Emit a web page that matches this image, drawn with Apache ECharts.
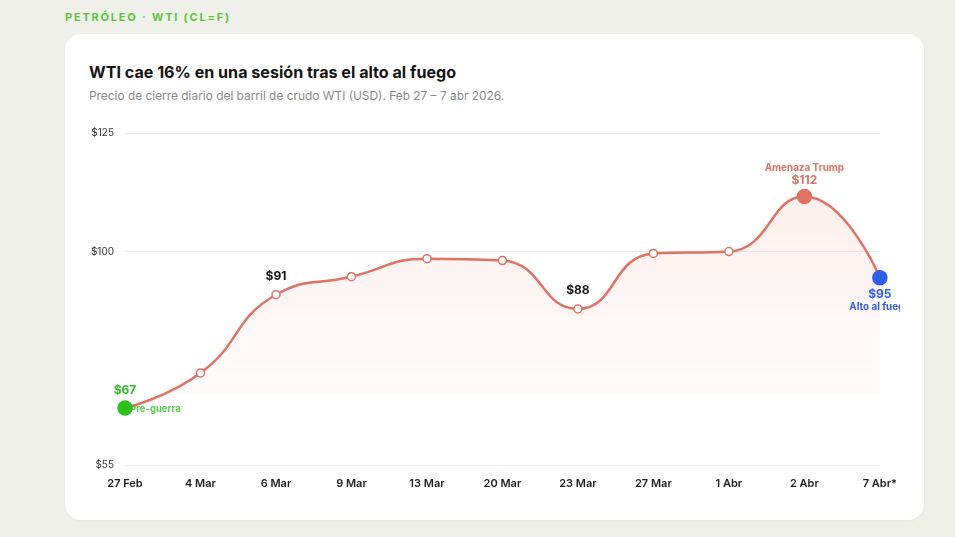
<!DOCTYPE html>
<html><head><meta charset="utf-8">
<script src="https://cdn.jsdelivr.net/npm/echarts@6/dist/echarts.min.js"></script>
<style>
html,body{margin:0;padding:0;background:#f0f0eb;width:955px;height:537px;overflow:hidden;font-family:Inter,"Noto Sans",sans-serif;}
#kicker{position:absolute;left:65px;top:10px;font-size:11px;font-weight:700;letter-spacing:1.8px;color:#5cc43a;}
#card{position:absolute;left:65px;top:34px;width:859px;height:486px;background:#fff;border-radius:16px;box-shadow:0 1px 3px rgba(0,0,0,0.04);}
#title{position:absolute;left:89px;top:62px;font-size:16.1px;font-weight:700;color:#141414;}
#sub{position:absolute;left:89px;top:88px;font-size:11.9px;color:#8a8a8a;}
#chart{position:absolute;left:65px;top:110px;width:835px;height:400px;}
</style></head><body>
<div id="kicker">PETRÓLEO · WTI (CL=F)</div>
<div id="card"></div>
<div id="title">WTI cae 16% en una sesión tras el alto al fuego</div>
<div id="sub">Precio de cierre diario del barril de crudo WTI (USD). Feb 27 – 7 abr 2026.</div>
<div id="chart"></div>
<script>
const categories = ['27 Feb','4 Mar','6 Mar','9 Mar','13 Mar','20 Mar','23 Mar','27 Mar','1 Abr','2 Abr','7 Abr*'];
const prices = [67, 74.4, 90.9, 94.7, 98.5, 98.1, 87.9, 99.6, 100, 111.6, 94.5];
const yTicks = [55, 100, 125];
const plainLabelIdx = [2, 6];            // "$91", "$88"
const preWarIdx = 0, preWarNote = 'Pre-guerra';
const threatIdx = 9, threatNote = 'Amenaza Trump';
const ceasefireIdx = 10, ceasefireNote = 'Alto al fuego';

const LINE = '#df7262', GREEN = '#2fbf1f', BLUE = '#2f5fe8';
const money = v => '$' + Math.round(v);

const data = prices.map((v, i) => {
  const d = { value: v };
  if (plainLabelIdx.includes(i)) {
    d.label = { show: true, position: 'top', distance: 8, formatter: money(v), color: '#151515', fontWeight: 700, fontSize: 12 };
  }
  if (i === preWarIdx) {
    d.symbolSize = 14;
    d.itemStyle = { color: GREEN, borderColor: GREEN };
    d.label = { show: true, position: 'top', distance: 4,
      formatter: '{v|' + money(v) + '}', rich: { v: { color: GREEN, fontWeight: 700, fontSize: 12 } } };
  }
  if (i === threatIdx) {
    d.symbolSize = 14;
    d.itemStyle = { color: LINE, borderColor: LINE };
    d.label = { show: true, position: 'top', distance: 1,
      formatter: '{n|' + threatNote + '}\n{v|' + money(v) + '}',
      rich: { n: { color: LINE, fontWeight: 700, fontSize: 9.9, lineHeight: 12, align: 'center' },
              v: { color: LINE, fontWeight: 700, fontSize: 12, lineHeight: 14, align: 'center' } } };
  }
  if (i === ceasefireIdx) {
    d.symbolSize = 14;
    d.itemStyle = { color: BLUE, borderColor: BLUE };
    d.label = { show: true, position: 'bottom', distance: 2,
      formatter: '{v|' + money(v) + '}\n{n|' + ceasefireNote + '}',
      rich: { v: { color: BLUE, fontWeight: 700, fontSize: 12, lineHeight: 14, align: 'center' },
              n: { color: BLUE, fontWeight: 700, fontSize: 9.9, lineHeight: 11, align: 'center' } } };
  }
  return d;
});

const chart = echarts.init(document.getElementById('chart'), null, { renderer: 'canvas' });
chart.setOption({
  animation: false,
  textStyle: { fontFamily: 'Inter, "Noto Sans", sans-serif' },
  grid: { left: 60, right: 20, top: 23, bottom: 45, containLabel: false },
  xAxis: {
    type: 'category', data: categories, boundaryGap: false,
    axisLine: { show: false }, axisTick: { show: false },
    axisLabel: { color: '#222', fontSize: 11, fontWeight: 600, margin: 13 }
  },
  yAxis: {
    type: 'value', min: 55, max: 125,
    axisLine: { show: false },
    axisTick: { show: false, customValues: yTicks },
    axisLabel: { customValues: yTicks, color: '#333', fontSize: 10, margin: 11, formatter: v => '$' + v },
    splitLine: { show: true, lineStyle: { color: '#ececec', width: 1 } }
  },
  series: [{
    type: 'line', data: data, smooth: 0.5,
    symbol: 'circle', symbolSize: 8,
    itemStyle: { color: '#fff', borderColor: LINE, borderWidth: 1.5 },
    lineStyle: { color: LINE, width: 2.5 },
    areaStyle: {
      origin: 'start',
      color: new echarts.graphic.LinearGradient(0, 0, 0, 1, [
        { offset: 0, color: 'rgba(232,117,99,0.16)' },
        { offset: 0.74, color: 'rgba(232,117,99,0.04)' },
        { offset: 0.741, color: 'rgba(232,117,99,0)' },
        { offset: 1, color: 'rgba(232,117,99,0)' }
      ])
    },
    z: 3
  }, {
    type: 'scatter', silent: true, symbolSize: 0, z: 5,
    data: [[categories[preWarIdx], prices[preWarIdx]]],
    label: { show: true, position: 'right', distance: 5, offset: [0, 1], formatter: preWarNote,
      color: GREEN, fontWeight: 700, fontSize: 9.5 }
  }]
});
</script>
</body></html>
